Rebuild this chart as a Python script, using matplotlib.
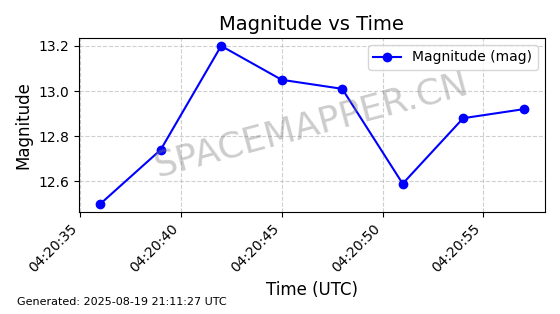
import matplotlib
matplotlib.use('Agg')
import matplotlib.pyplot as plt
import matplotlib.dates as mdates
import pandas as pd

# observation times and magnitudes
times = ['04:20:36', '04:20:39', '04:20:42', '04:20:45',
         '04:20:48', '04:20:51', '04:20:54', '04:20:57']
mags = [12.50, 12.74, 13.20, 13.05, 13.01, 12.59, 12.88, 12.92]
footer = 'Generated: 2025-08-19 21:11:27 UTC'

t = pd.to_datetime(['2025-08-19 ' + s for s in times])

fig, ax = plt.subplots(figsize=(5.6, 3.14), dpi=100)
ax.plot(t, mags, 'o-', color='blue', label='Magnitude (mag)')

ax.set_title('Magnitude vs Time', fontsize=14)
ax.set_xlabel('Time (UTC)', fontsize=12)
ax.set_ylabel('Magnitude', fontsize=12)
ax.grid(True, linestyle='--', alpha=0.6)
ax.legend(loc='upper right')

ax.xaxis.set_major_locator(mdates.SecondLocator(bysecond=range(0, 60, 5)))
ax.xaxis.set_major_formatter(mdates.DateFormatter('%H:%M:%S'))
plt.setp(ax.get_xticklabels(), rotation=45, ha='right')

# watermark
ax.text(0.5, 0.5, 'SPACEMAPPER.CN', transform=ax.transAxes,
        fontsize=26, color='gray', alpha=0.4, rotation=15,
        ha='center', va='center')

fig.text(0.03, 0.03, footer, fontsize=8)

plt.subplots_adjust(left=0.141, right=0.973, top=0.879, bottom=0.325)
plt.savefig('out.png')
